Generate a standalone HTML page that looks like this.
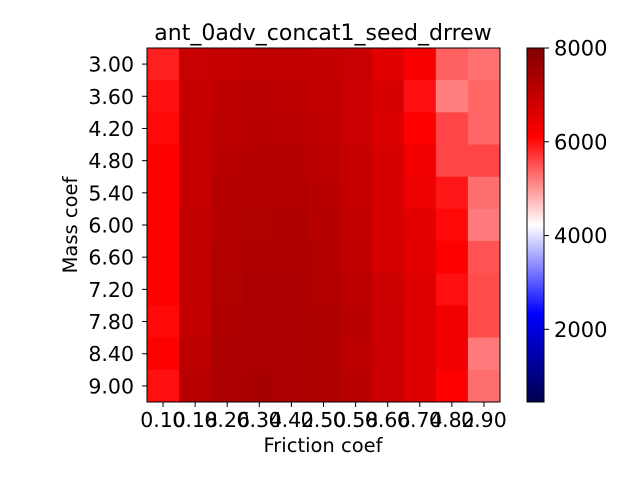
<!DOCTYPE html>
<html><head><meta charset="utf-8"><style>body{margin:0;background:#fff}svg{display:block;font-family:"DejaVu Sans","Liberation Sans",sans-serif}</style></head>
<body>
<svg id="c" width="640" height="480"></svg>
<script>
const xLabels=["0.10","0.18","0.26","0.34","0.42","0.50","0.58","0.66","0.74","0.82","0.90"];
const yLabels=["3.00","3.60","4.20","4.80","5.40","6.00","6.60","7.20","7.80","8.40","9.00"];
const cbTicks=[2000,4000,6000,8000];
const row0=[5880,6930,6960,7000,7000,6980,6930,6570,6200,5400,5285];
const row1=[6000,6950,7080,7130,7100,7000,6900,6700,6000,5170,5350];
const row2=[6050,6950,7100,7150,7130,7050,6900,6650,6112,5600,5350];
const row3=[6112,6950,7150,7200,7180,7100,6950,6700,6300,5600,5600];
const row4=[6112,6950,7200,7250,7250,7150,6950,6700,6400,5950,5300];
const row5=[6112,6980,7200,7280,7300,7200,7000,6700,6500,6050,5200];
const row6=[6112,7000,7250,7300,7300,7250,7050,6750,6500,6112,5500];
const row7=[6112,7000,7280,7350,7330,7250,7100,6850,6600,6000,5550];
const row8=[6050,7000,7300,7370,7370,7300,7150,6900,6600,6300,5550];
const row9=[6112,7100,7330,7370,7350,7300,7100,6900,6600,6300,5200];
const row10=[6000,7150,7370,7400,7370,7300,7150,6900,6600,6112,5300];
const values=[row0,row1,row2,row3,row4,row5,row6,row7,row8,row9,row10];
const vmin=450,vmax=8000;
const NS="http://www.w3.org/2000/svg";
const svg=document.getElementById('c');
function mk(t,a,txt){const e=document.createElementNS(NS,t);for(const k in a)e.setAttribute(k,a[k]);if(txt!==undefined)e.textContent=txt;svg.appendChild(e);return e;}
function seismic(v){let t=(v-vmin)/(vmax-vmin);t=Math.max(0,Math.min(1,t));let r,g,b;
 if(t<0.25){r=0;g=0;b=0.3+t/0.25*0.7;}else if(t<0.5){const s=(t-0.25)/0.25;r=s;g=s;b=1;}
 else if(t<0.75){const s=(t-0.5)/0.25;r=1;g=1-s;b=1-s;}else{r=1-(t-0.75)*2;g=0;b=0;}
 return `rgb(${Math.round(r*255)},${Math.round(g*255)},${Math.round(b*255)})`;}
const X0=147,X1=500,Y0=48,Y1=402;
const cw=(X1-X0)/xLabels.length,ch=(Y1-Y0)/yLabels.length;
const xs=i=>X0+i*cw, ys=j=>Y0+j*ch;
values.forEach((row,j)=>row.forEach((v,i)=>{
 const r=mk('rect',{x:xs(i),y:ys(j),width:cw+0.5,height:ch+0.5,fill:seismic(v)});
 
 
}));
const fr=mk('rect',{x:X0,y:Y0,width:X1-X0,height:Y1-Y0,fill:'none',stroke:'#000','stroke-width':1});

xLabels.forEach((l,i)=>{const cx=xs(i)+cw/2;
 mk('line',{x1:cx,y1:Y1,x2:cx,y2:Y1+5,stroke:'#000'});
 const t=mk('text',{x:cx,y:427,'font-size':20.5,'text-anchor':'middle'},l);
 });
yLabels.forEach((l,j)=>{const cy=ys(j)+ch/2;
 mk('line',{x1:X0,y1:cy,x2:X0-5,y2:cy,stroke:'#000'});
 const t=mk('text',{x:134,y:cy+7.5,'font-size':20.5,'text-anchor':'end'},l);
 });
let e=mk('text',{x:323,y:40,'font-size':22,'text-anchor':'middle'},'ant_0adv_concat1_seed_drrew');

e=mk('text',{x:323,y:452,'font-size':19.5,'text-anchor':'middle'},'Friction coef');

e=mk('text',{x:77,y:225,'font-size':19.5,'text-anchor':'middle',transform:'rotate(-90 77 225)'},'Mass coef');

const CX=527,CW=17,CY0=48,CY1=402;
const defs=mk('defs',{});
const lg=document.createElementNS(NS,'linearGradient');lg.setAttribute('id','cb');lg.setAttribute('x1','0');lg.setAttribute('y1','1');lg.setAttribute('x2','0');lg.setAttribute('y2','0');
for(let k=0;k<=20;k++){const st=document.createElementNS(NS,'stop');st.setAttribute('offset',k/20);st.setAttribute('stop-color',seismic(vmin+k/20*(vmax-vmin)));lg.appendChild(st);}
defs.appendChild(lg);
e=mk('rect',{x:CX,y:CY0,width:CW,height:CY1-CY0,fill:'url(#cb)',stroke:'#000','stroke-width':1});

const cby=v=>CY1-(v-vmin)/(vmax-vmin)*(CY1-CY0);
cbTicks.forEach(v=>{const y=cby(v);
 mk('line',{x1:CX+CW,y1:y,x2:CX+CW+5,y2:y,stroke:'#000'});
 const t=mk('text',{x:554,y:y+7.5,'font-size':21,},String(v));
 });
</script>
</body></html>
